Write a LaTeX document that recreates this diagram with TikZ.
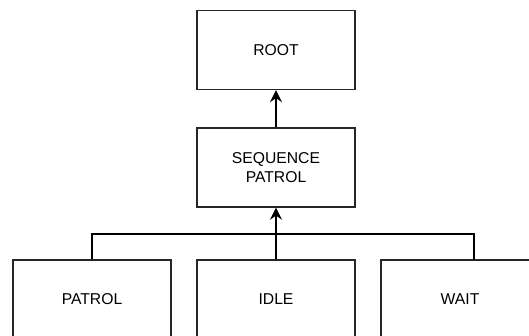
\documentclass[tikz,border=0pt]{standalone}
\usepackage{fontspec}
\setmainfont{Liberation Sans}
\usetikzlibrary{arrows.meta}
\begin{document}
\begin{tikzpicture}[x=1pt,y=-1pt,
  box/.style={draw=black!85,line width=1.3pt,minimum width=158pt,minimum height=79pt,inner sep=0pt,align=center,
    font=\fontsize{15.7pt}{19.3pt}\selectfont,text=black},
  link/.style={draw=black,line width=1.5pt},
  tip/.style={-{Stealth[length=12pt,width=12pt,inset=4pt]}}]
\useasboundingbox (0,0) rectangle (529,335);
\begin{scope}
\clip (0,0) rectangle (529,335);
\node[box] (ROOT) at (276,50) {ROOT};
\node[box] (SEQ) at (276,167.5) {SEQUENCE\\PATROL};
\node[box] (PATROL) at (92,299.5) {PATROL};
\node[box] (IDLE) at (276,299.5) {IDLE};
\node[box] (WAIT) at (460,299.5) {WAIT};
\coordinate (bus) at (276,234);
\coordinate (waittop) at (474,260);
\draw[link,tip] (SEQ.north) -- (ROOT.south);
\draw[link] (PATROL.north) |- (bus);
\draw[link] (waittop) |- (bus);
\draw[link,tip] (IDLE.north) -- (SEQ.south);
\end{scope}
\end{tikzpicture}
\end{document}
